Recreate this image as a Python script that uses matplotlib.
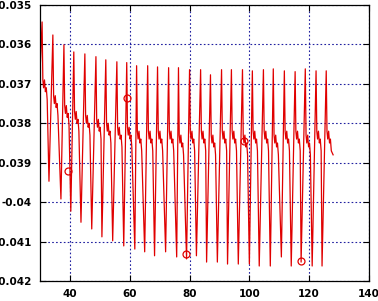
import numpy as np
import matplotlib; matplotlib.use("Agg")
import matplotlib.pyplot as plt

# per-cycle values
peak_x = [30.7, 34.3, 38.0, 41.3, 45.0, 48.7, 52.0, 55.7, 59.0, 62.3, 66.0, 69.3,
          73.0, 76.3, 80.0, 83.7, 87.0, 90.7, 94.0, 97.7, 101.0, 104.7, 108.0,
          111.7, 115.3, 118.7, 122.3, 125.7]
peak_y = [-0.03543, -0.03576, -0.03601, -0.03619, -0.03624, -0.03631, -0.03639,
          -0.03644, -0.03646, -0.03654, -0.03654, -0.03657, -0.03659, -0.03659,
          -0.03664, -0.03664, -0.03677, -0.03664, -0.03664, -0.03664, -0.03667,
          -0.03664, -0.03662, -0.03667, -0.03669, -0.03662, -0.03667, -0.03667]
shoulder_y = [-0.0369, -0.0373, -0.03755, -0.0377, -0.0378, -0.0379, -0.0380,
              -0.0381, -0.0381, -0.0382, -0.0382, -0.0382, -0.0382, -0.0383,
              -0.0382, -0.0382, -0.0383, -0.0382, -0.0382, -0.0383, -0.0382,
              -0.0382, -0.0383, -0.0382, -0.0382, -0.0383, -0.0382, -0.0382]
trough_x = [33.0, 37.0, 40.3, 43.7, 47.3, 50.7, 54.3, 58.0, 61.7, 65.0, 68.3,
            72.0, 75.7, 79.0, 82.3, 85.7, 89.3, 92.7, 96.3, 100.0, 103.3, 107.0,
            110.7, 114.0, 117.3, 121.0, 124.3]
trough_y = [-0.03947, -0.03992, -0.04023, -0.04051, -0.04068, -0.04088, -0.04098,
            -0.04111, -0.04119, -0.04126, -0.04136, -0.04126, -0.04139, -0.04144,
            -0.04136, -0.04152, -0.04152, -0.04157, -0.04157, -0.04157, -0.04162,
            -0.04162, -0.04139, -0.04162, -0.04152, -0.04162, -0.04162]
# shoulder wiggle after each peak: (dx from peak, dy from shoulder level)
wiggle_dx = [0.25, 0.5, 0.8, 1.1, 1.4, 1.7]
wiggle_dy = [0.0, -0.0002, 0.0, -0.0003, -0.0002, -0.0005]
start_xy = (30.0, -0.0367)
end_xy = (128.0, -0.0388)

mark_x = [39.3, 59.0, 78.7, 98.3, 117.3]
mark_y = [-0.03922, -0.03735, -0.04131, -0.03846, -0.04149]

xs = [start_xy[0]]; ys = [start_xy[1]]
for i in range(len(peak_x)):
    xs.append(peak_x[i]); ys.append(peak_y[i])
    for dx, dy in zip(wiggle_dx, wiggle_dy):
        xs.append(peak_x[i] + dx); ys.append(shoulder_y[i] + dy)
    if i < len(trough_x):
        xs.append(trough_x[i]); ys.append(trough_y[i])
xs.append(end_xy[0]); ys.append(end_xy[1])

fig = plt.figure(figsize=(3.78, 3.01), dpi=100)
ax = fig.add_axes([40/378, 1-281/301, 329/378, 276/301])
ax.plot(xs, ys, color="#e00000", lw=0.9)
ax.plot(mark_x, mark_y, "o", mfc="none", mec="#e00000", ms=5, mew=0.9)

ax.set_xlim(30, 140); ax.set_ylim(-0.042, -0.035)
ax.set_xticks(range(40, 141, 20))
yt = np.round(np.arange(-0.042, -0.0349, 0.001), 3)
ax.set_yticks(yt)
ax.set_yticklabels([f"{v:g}" for v in yt])
ax.grid(True, color="#2020a0", ls=(0, (1.5, 2)), lw=0.8)
ax.tick_params(direction="in", top=True, right=True, length=4, width=0.8,
               labelsize=7.5, pad=6)
for lab in ax.get_xticklabels() + ax.get_yticklabels():
    lab.set_fontweight("bold")
for s in ax.spines.values():
    s.set_linewidth(0.9); s.set_color("black")

fig.savefig("out.png", dpi=100)
